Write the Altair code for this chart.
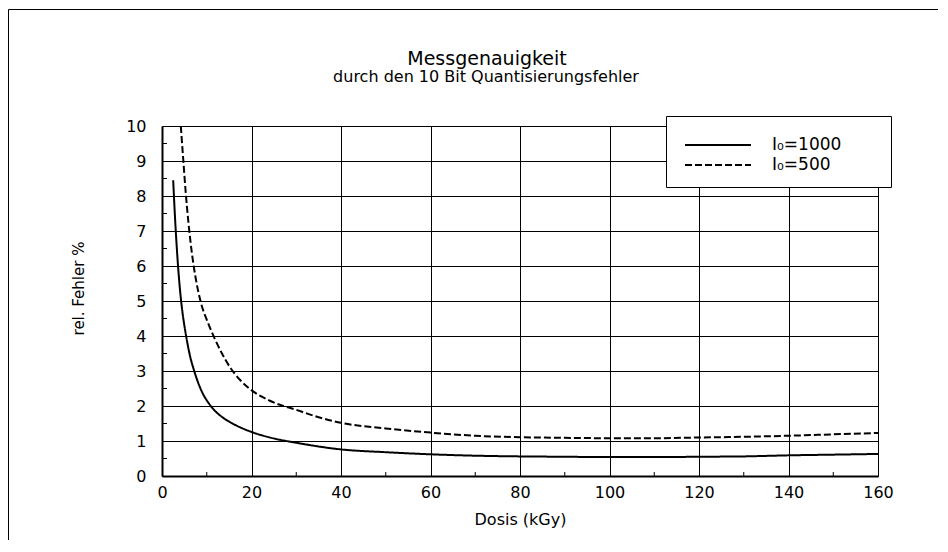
import altair as alt
import pandas as pd

FONT = "DejaVu Sans"

# I0 = 1000 (solid)
x_1000 = [2.5, 2.8, 3.1, 3.5, 4.0, 4.5, 5.0, 5.5, 6.1, 7.2, 8.6, 10.9, 13.7, 15.9, 20.2, 24.1,
          30, 40, 50, 60, 70, 80, 90, 100, 110, 120, 130, 140, 150, 160]
y_1000 = [8.45, 7.65, 6.95, 6.15, 5.35, 4.75, 4.3, 3.92, 3.52, 3.0, 2.5, 2.0, 1.66, 1.49, 1.25,
          1.1, 0.95, 0.76, 0.68, 0.62, 0.58, 0.56, 0.55, 0.54, 0.54, 0.55, 0.56, 0.59, 0.61, 0.63]

# I0 = 500 (dashed)
x_500 = [4.2, 4.8, 5.3, 5.9, 6.7, 7.6, 8.7, 10.2, 11.8, 13.4, 15.5, 17.4, 19.3, 24.1, 30, 35,
         40, 50, 60, 70, 80, 90, 100, 110, 120, 130, 140, 150, 160]
y_500 = [10, 8.95, 8.1, 7.25, 6.35, 5.6, 4.95, 4.4, 3.92, 3.5, 3.05, 2.75, 2.52, 2.15, 1.89,
         1.68, 1.52, 1.36, 1.24, 1.15, 1.11, 1.09, 1.08, 1.08, 1.1, 1.12, 1.15, 1.19, 1.23]

series_names = ["I\u2080=1000", "I\u2080=500"]
x_ticks = [0, 20, 40, 60, 80, 100, 120, 140, 160]
y_ticks = [0, 1, 2, 3, 4, 5, 6, 7, 8, 9, 10]
x_minor = [10, 30, 50, 70, 90, 110, 130, 150]
y_minor = [0.5, 1.5, 2.5, 3.5, 4.5, 5.5, 6.5, 7.5, 8.5, 9.5]

title_text = "Messgenauigkeit"
subtitle_text = "durch den 10 Bit Quantisierungsfehler"
X_TITLE = "Dosis (kGy)"
Y_TITLE = "rel. Fehler %"

rows = []
for xv, yv in zip(x_1000, y_1000):
    rows.append({"Dosis": xv, "Fehler": yv, "Serie": series_names[0]})
for xv, yv in zip(x_500, y_500):
    rows.append({"Dosis": xv, "Fehler": yv, "Serie": series_names[1]})
df = pd.DataFrame(rows)

W, H = 716, 350
xscale = alt.Scale(domain=[0, 160], nice=False, zero=True)
yscale = alt.Scale(domain=[0, 10], nice=False, zero=True)

x_axis = alt.Axis(values=x_ticks, grid=True, gridColor="black", gridWidth=1, gridOpacity=1,
                  ticks=False, tickSize=0, domainColor="black", domainWidth=2,
                  labelFont=FONT, labelFontSize=16, labelColor="black", labelPadding=8,
                  labelFlush=False,
                  titleFont=FONT, titleFontSize=16, titleFontWeight="normal",
                  titleColor="black", titlePadding=11)
y_axis = alt.Axis(values=y_ticks, grid=True, gridColor="black", gridWidth=1, gridOpacity=1,
                  ticks=False, tickSize=0, domainColor="black", domainWidth=2,
                  labelFont=FONT, labelFontSize=16, labelColor="black", labelPadding=16,
                  labelFlush=False,
                  titleFont=FONT, titleFontSize=15, titleFontWeight="normal",
                  titleColor="black", titleAngle=270, titleAlign="center",
                  titleBaseline="middle", titleX=-84, titleY=162)

lines = alt.Chart(df).mark_line(color="black", strokeWidth=2, interpolate="monotone").encode(
    x=alt.X("Dosis:Q", scale=xscale, title=X_TITLE, axis=x_axis),
    y=alt.Y("Fehler:Q", scale=yscale, title=Y_TITLE, axis=y_axis),
    strokeDash=alt.StrokeDash(
        "Serie:N",
        scale=alt.Scale(domain=series_names, range=[[1, 0], [7, 3]]),
        legend=alt.Legend(
            title=None, orient="none", legendX=502, legendY=-6,
            padding=15,
            symbolType="stroke", symbolSize=4356, symbolStrokeWidth=2,
            symbolStrokeColor="black", symbolOffset=5, labelOffset=20,
            labelFont=FONT, labelFontSize=17, labelColor="black",
            clipHeight=20, rowPadding=0,
        ),
    ),
)

minor_x_df = pd.DataFrame({"Dosis": x_minor})
minor_y_df = pd.DataFrame({"Fehler": y_minor})

minor_x = alt.Chart(minor_x_df).mark_rule(color="black", strokeWidth=1).encode(
    x=alt.X("Dosis:Q", scale=xscale, title=X_TITLE, axis=x_axis),
    y=alt.value(H),
    y2=alt.value(H - 4),
)
minor_y = alt.Chart(minor_y_df).mark_rule(color="black", strokeWidth=1).encode(
    y=alt.Y("Fehler:Q", scale=yscale, title=Y_TITLE, axis=y_axis),
    x=alt.value(0),
    x2=alt.value(5),
)

one_df = pd.DataFrame({"f": [0]})
outer = alt.Chart(one_df).mark_rect(fill="white", fillOpacity=0, stroke="black",
                                    strokeWidth=1).encode(
    x=alt.value(-153.5),
    x2=alt.value(W + 100),
    y=alt.value(-116.5),
    y2=alt.value(H + 120),
)

legend_box = alt.Chart(one_df).mark_rect(fill="white", stroke="black", strokeWidth=1).encode(
    x=alt.value(504.5),
    x2=alt.value(729.5),
    y=alt.value(-9.5),
    y2=alt.value(61.5),
)

title_mark = alt.Chart(one_df).mark_text(
    text=title_text, font=FONT, fontSize=19, color="black", align="center",
    baseline="alphabetic").encode(x=alt.value(325), y=alt.value(-61))
subtitle_mark = alt.Chart(one_df).mark_text(
    text=subtitle_text, font=FONT, fontSize=16, color="black", align="center",
    baseline="alphabetic").encode(x=alt.value(324), y=alt.value(-44))

chart = alt.layer(outer, minor_x, minor_y, lines, legend_box, title_mark,
                  subtitle_mark).properties(
    width=W,
    height=H,
    autosize=alt.AutoSizeParams(type="none"),
    padding={"left": 154, "top": 118, "right": 60, "bottom": 64},
).configure_view(stroke="black", strokeWidth=1.5).configure(background="white")

chart.save("out.html", embed_options={"renderer": "svg", "actions": False})
